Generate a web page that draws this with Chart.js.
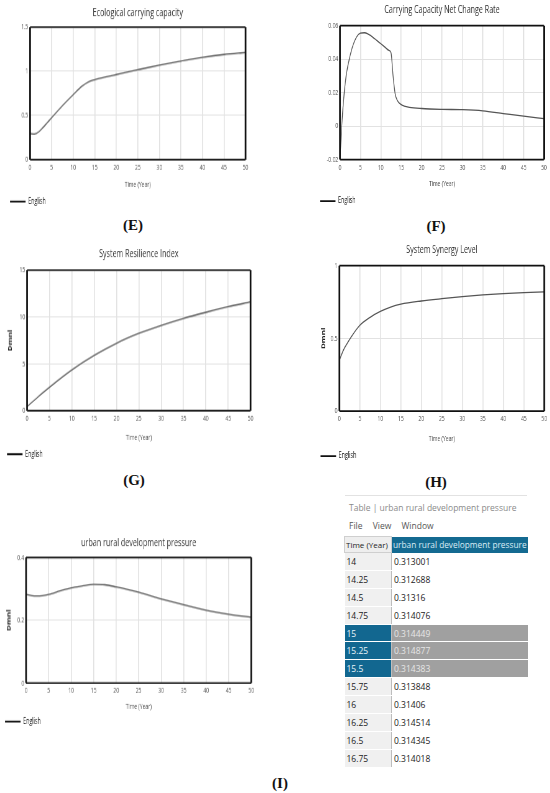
<!DOCTYPE html>
<html>
<head>
<meta charset="utf-8">
<script src="https://cdn.jsdelivr.net/npm/chart.js@4.4.1/dist/chart.umd.min.js"></script>
<style>
body{margin:0;background:#fff;width:550px;height:793px;position:relative;overflow:hidden;font-family:'Open Sans',sans-serif}
.panel{position:absolute;transform-origin:0 0}
.lab{position:absolute;font:bold 15px 'Liberation Serif','Times New Roman',serif;color:#111;transform:translate(-50%,-50%)}
#tblTitle{position:absolute;left:349px;top:502px;font-size:8.5px;color:#8a8a8a;white-space:nowrap}
#tblMenu{position:absolute;left:349px;top:520px;font-size:8.5px;color:#555;white-space:nowrap}
#tblMenu span{margin-right:8px}
#tblLine{position:absolute;left:345px;top:495px;width:182px;height:1px;background:#e2e2e2}
#tbl{position:absolute;left:344px;top:536px;border-collapse:collapse;table-layout:fixed;width:183px;font-size:8.5px;color:#1a1a1a}
#tbl td{padding:0 0 0 2px;white-space:nowrap;overflow:hidden;box-sizing:border-box}
#tbl tr.head td{height:16px;padding-left:1px}
#tbl tr.row td{height:17.9px;border-bottom:1px solid #fff}
#tbl td.c1{width:47px;background:#f0f0f0;border-right:1px solid #bdbdbd}
#tbl td.c2{width:136px;background:#fff;border-bottom-color:#f0f0f0}
#tbl tr.head td.c1{background:#eeeeee;border:1px solid #cfcfcf;color:#222;font-size:8px}
#tbl tr.head td.c2{background:#146a91;color:#dcedf6;font-size:8.3px}
#tbl tr.sel td.c1{background:#126790;color:#e8f4fa}
#tbl tr.sel td.c2{background:#a0a0a0;color:#e6e6e6;border-bottom-color:#fff}
</style>
</head>
<body>

<div class="lab" style="left:133px;top:225px">(E)</div>
<div class="lab" style="left:436px;top:226px">(F)</div>
<div class="lab" style="left:134px;top:480px">(G)</div>
<div class="lab" style="left:436px;top:482px">(H)</div>
<div class="lab" style="left:280px;top:783px">(I)</div>

<div id="tblLine"></div>
<div id="tblTitle">Table | urban rural development pressure</div>
<div id="tblMenu"><span>File</span> <span>View</span> <span>Window</span></div>
<table id="tbl"></table>

<script>
// horizontal squeeze of the chart panels (the source figure is compressed sideways)
const SX = 0.62

// (E) Ecological carrying capacity
const yearsE = [0, 1, 2, 3, 4, 5, 7.5, 10, 12, 13.5, 15, 17.5, 20, 25, 30, 35, 40, 45, 50]
const capacityE = [0.295, 0.29, 0.315, 0.365, 0.42, 0.475, 0.61, 0.735, 0.83, 0.88, 0.905, 0.935, 0.963, 1.018, 1.07, 1.115, 1.157, 1.19, 1.213]

// (F) Carrying Capacity Net Change Rate
const yearsF = [0, 0.5, 1, 1.5, 2, 3, 4, 5, 6, 7, 8, 9, 10, 11, 12, 12.5, 13, 13.5, 14, 15, 16, 17, 20, 25, 30, 35, 40, 45, 50]
const rateF = [-0.02, 0.003, 0.019, 0.03, 0.037, 0.047, 0.053, 0.0555, 0.0558, 0.0548, 0.0532, 0.0512, 0.0492, 0.0472, 0.0452, 0.0438, 0.030, 0.0195, 0.0155, 0.0128, 0.0118, 0.0112, 0.0105, 0.0100, 0.0098, 0.0091, 0.0075, 0.0059, 0.0045]

// (G) System Resilience Index
const yearsG = [0, 2.5, 5, 10, 15, 20, 25, 30, 35, 40, 45, 50]
const resilienceG = [0.45, 1.5, 2.5, 4.35, 5.9, 7.2, 8.25, 9.1, 9.85, 10.5, 11.1, 11.6]

// (H) System Synergy Level
const yearsH = [0, 1, 2, 3, 5, 7.5, 10, 12.5, 15, 20, 25, 30, 35, 40, 45, 50]
const synergyH = [0.35, 0.42, 0.47, 0.515, 0.59, 0.645, 0.685, 0.715, 0.735, 0.757, 0.773, 0.787, 0.799, 0.808, 0.815, 0.82]

// (I) urban rural development pressure
const yearsI = [0, 2.5, 5, 7.5, 10, 12.5, 15, 17.5, 20, 25, 30, 35, 40, 45, 50]
const pressureI = [0.282, 0.277, 0.282, 0.293, 0.303, 0.309, 0.314, 0.313, 0.306, 0.289, 0.268, 0.249, 0.232, 0.219, 0.209]

// table beside (I)
const tableTime = ['14', '14.25', '14.5', '14.75', '15', '15.25', '15.5', '15.75', '16', '16.25', '16.5', '16.75']
const tablePressure = ['0.313001', '0.312688', '0.31316', '0.314076', '0.314449', '0.314877', '0.314383', '0.313848', '0.31406', '0.314514', '0.314345', '0.314018']
const tableSelected = ['15', '15.25', '15.5']

const TICK_FONT = 8
const LEG_FONT = 8.5
const TITLE_FONT = 11.5
const XTITLE_FONT = 8
const YTITLE_FONT = 8

const plotFrame = {
    id: 'plotFrame',
    afterDatasetsDraw(chart) {
        const a = chart.chartArea
        const ctx = chart.ctx
        ctx.save()
        ctx.strokeStyle = '#111'
        ctx.lineWidth = 1.7
        ctx.beginPath()
        ctx.moveTo(a.left, a.top); ctx.lineTo(a.right, a.top)
        ctx.moveTo(a.left, a.bottom); ctx.lineTo(a.right, a.bottom)
        ctx.stroke()
        ctx.lineWidth = 1.7 / SX
        ctx.beginPath()
        ctx.moveTo(a.left, a.top); ctx.lineTo(a.left, a.bottom)
        ctx.moveTo(a.right, a.top); ctx.lineTo(a.right, a.bottom)
        ctx.stroke()
        ctx.restore()
    }
}

function fmt(v) {
    return String(Number(v.toFixed(4)))
}

function makeChart(p) {
    // p holds page positions in px, converted here into the squeezed chart space
    const titleLine = TITLE_FONT * 1.2
    const xTitleLine = XTITLE_FONT * 1.2
    const xH = p.xTitleY - p.plotB + 2 + xTitleLine / 2
    const legTop = p.plotB + xH
    const legPad = p.legY - legTop - LEG_FONT / 2
    const h = p.legY + LEG_FONT / 2 + 10 - p.t
    const padL = (p.legX - p.l) / SX - legPad
    const yW = (p.plotL - p.l) / SX - padL
    const padR = (p.l + p.w - p.plotR) / SX

    const box = document.createElement('div')
    box.className = 'panel'
    box.style.left = p.l + 'px'
    box.style.top = p.t + 'px'
    box.style.width = (p.w / SX) + 'px'
    box.style.height = h + 'px'
    box.style.transform = 'scaleX(' + SX + ')'
    const canvas = document.createElement('canvas')
    box.appendChild(canvas)
    document.body.appendChild(box)

    const points = p.years.map((x, i) => ({ x: x, y: p.values[i] }))

    const config = {
        type: 'line',
        data: {
            datasets: [{
                label: 'English',
                data: points,
                borderColor: '#555',
                borderWidth: 1.3,
                pointRadius: 0,
                fill: false,
                cubicInterpolationMode: 'monotone'
            }]
        },
        options: {
            responsive: true,
            maintainAspectRatio: false,
            animation: false,
            layout: { padding: { left: padL, right: padR, top: 0, bottom: 0 } },
            plugins: {
                title: {
                    display: true,
                    text: p.title,
                    fullSize: false,
                    color: '#333',
                    font: { family: 'Open Sans', size: TITLE_FONT, weight: 'normal' },
                    padding: { top: p.titleY - p.t - titleLine / 2, bottom: p.plotT - p.titleY - titleLine / 2 }
                },
                legend: {
                    position: 'bottom',
                    align: 'start',
                    labels: {
                        usePointStyle: true,
                        pointStyleWidth: 15.5 / SX,
                        padding: legPad,
                        color: '#333',
                        font: { family: 'Open Sans', size: LEG_FONT },
                        generateLabels: () => [{
                            text: 'English',
                            strokeStyle: '#111',
                            fillStyle: '#111',
                            lineWidth: 1.8,
                            pointStyle: 'line',
                            datasetIndex: 0
                        }]
                    }
                },
                tooltip: { enabled: false }
            },
            scales: {
                x: {
                    type: 'linear',
                    min: 0,
                    max: 50,
                    afterFit: s => { s.height = xH },
                    ticks: { stepSize: 5, padding: 3, color: '#555', font: { family: 'Open Sans', size: TICK_FONT } },
                    grid: { color: '#e2e2e2', lineWidth: 1 / SX, drawTicks: false },
                    border: { display: false },
                    title: {
                        display: true,
                        text: 'Time (Year)',
                        color: '#444',
                        font: { family: 'Open Sans', size: XTITLE_FONT },
                        padding: { top: 0, bottom: 2 }
                    }
                },
                y: {
                    min: p.yMin,
                    max: p.yMax,
                    afterFit: s => { s.width = yW },
                    ticks: { stepSize: p.yStep, padding: 3, color: '#555', font: { family: 'Open Sans', size: TICK_FONT }, callback: fmt },
                    grid: { color: '#e2e2e2', lineWidth: 1, drawTicks: false },
                    border: { display: false },
                    title: {
                        display: !!p.yTitleX,
                        text: 'Dmnl',
                        color: '#222',
                        font: { family: 'Open Sans', size: YTITLE_FONT, weight: 'bold' },
                        padding: { top: p.yTitleX ? (p.yTitleX - p.l) / SX - padL - YTITLE_FONT * 0.6 : 0, bottom: 0 }
                    }
                }
            }
        },
        plugins: [plotFrame]
    }
    return new Chart(canvas.getContext('2d'), config)
}

makeChart({ title: 'Ecological carrying capacity', years: yearsE, values: capacityE, yMin: 0, yMax: 1.5, yStep: 0.5,
    l: 0, t: 0, w: 275, titleY: 12.7, plotT: 27, plotB: 159, plotL: 30, plotR: 245, xTitleY: 183.3, legY: 200.7, legX: 10 })

makeChart({ title: 'Carrying Capacity Net Change Rate', years: yearsF, values: rateF, yMin: -0.02, yMax: 0.06, yStep: 0.02,
    l: 313, t: 0, w: 237, titleY: 10, plotT: 25.7, plotB: 159.5, plotL: 340, plotR: 544, xTitleY: 184, legY: 201, legX: 320 })

makeChart({ title: 'System Resilience Index', years: yearsG, values: resilienceG, yMin: 0, yMax: 15, yStep: 5,
    l: 0, t: 240, w: 275, titleY: 253.3, plotT: 270, plotB: 410, plotL: 27, plotR: 250, xTitleY: 436.7, legY: 453.3, legX: 7, yTitleX: 10.5 })

makeChart({ title: 'System Synergy Level', years: yearsH, values: synergyH, yMin: 0, yMax: 1, yStep: 0.5,
    l: 314, t: 240, w: 236, titleY: 249.7, plotT: 265.7, plotB: 411, plotL: 339.3, plotR: 543.7, xTitleY: 438.7, legY: 456, legX: 320.5, yTitleX: 324 })

makeChart({ title: 'urban rural development pressure', years: yearsI, values: pressureI, yMin: 0, yMax: 0.4, yStep: 0.2,
    l: 0, t: 527, w: 275, titleY: 542.7, plotT: 557.3, plotB: 682.3, plotL: 26, plotR: 250.7, xTitleY: 705.7, legY: 720.7, legX: 5, yTitleX: 9 })

// table
let tbl = document.querySelector('#tbl')
let html = '<tr class="head"><td class="c1">Time (Year)</td><td class="c2">urban rural development pressure</td></tr>'
tableTime.forEach((t, i) => {
    const cls = tableSelected.includes(t) ? 'row sel' : 'row'
    html += '<tr class="' + cls + '"><td class="c1">' + t + '</td><td class="c2">' + tablePressure[i] + '</td></tr>'
})
tbl.innerHTML = html
</script>
</body>
</html>
